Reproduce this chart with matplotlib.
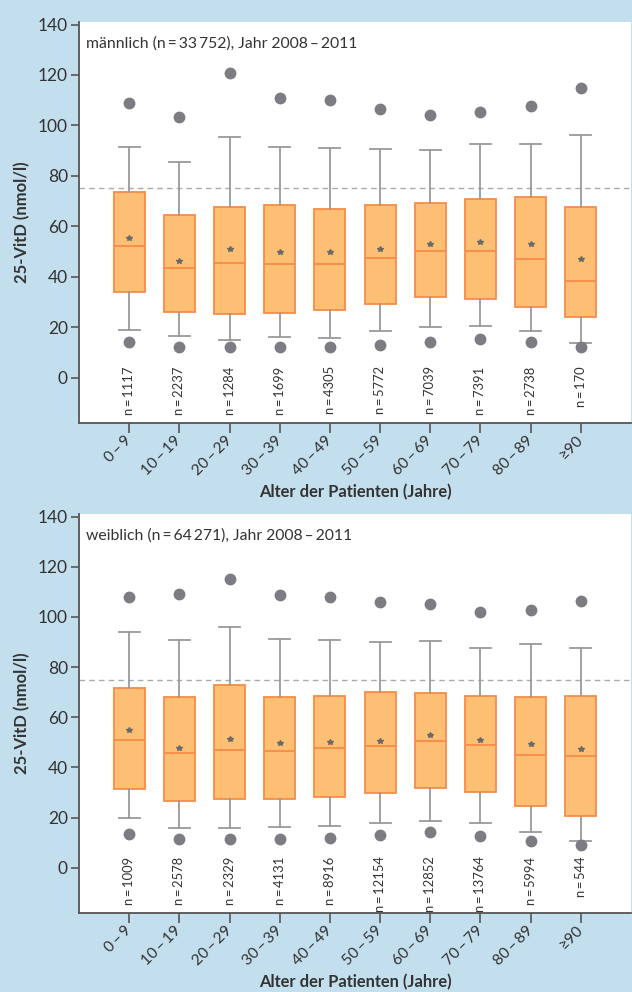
import matplotlib
matplotlib.use("Agg")
import matplotlib.pyplot as plt
from matplotlib.transforms import ScaledTranslation

plt.rcParams['font.family'] = ['Lato', 'DejaVu Sans']

# Age groups
age_groups = ["0\u2009–\u20099", "10\u2009–\u200919", "20\u2009–\u200929", "30\u2009–\u200939",
              "40\u2009–\u200949", "50\u2009–\u200959", "60\u2009–\u200969", "70\u2009–\u200979",
              "80\u2009–\u200989", "\u226590"]

# Men: 25-VitD (nmol/l) box statistics per age group
m_low_pt = [14.0, 12.3, 12.2, 12.3, 12.2, 13.1, 14.2, 15.4, 14.0, 12.2]
m_whislo = [18.9, 16.3, 14.8, 16.1, 15.9, 18.3, 20.1, 20.3, 18.3, 13.9]
m_q1     = [34.0, 26.1, 25.2, 25.8, 26.9, 29.0, 32.0, 31.0, 28.1, 23.9]
m_median = [52.2, 43.3, 45.3, 45.0, 44.9, 47.3, 50.1, 50.1, 46.9, 38.2]
m_mean   = [55.4, 46.4, 51.0, 49.8, 49.9, 51.1, 53.1, 53.8, 53.1, 47.0]
m_q3     = [73.4, 64.4, 67.6, 68.5, 67.0, 68.4, 69.2, 71.0, 71.6, 67.8]
m_whishi = [91.4, 85.3, 95.4, 91.4, 90.9, 90.5, 90.4, 92.5, 92.5, 96.1]
m_high_pt = [108.7, 103.4, 120.6, 110.8, 109.9, 106.4, 104.3, 105.5, 107.5, 115.0]
m_counts = ["1117", "2237", "1284", "1699", "4305", "5772", "7039", "7391", "2738", "170"]

# Women: 25-VitD (nmol/l) box statistics per age group
w_low_pt = [13.6, 11.5, 11.6, 11.6, 11.9, 13.1, 14.3, 12.7, 10.8, 9.0]
w_whislo = [19.7, 15.7, 15.7, 16.1, 16.8, 17.7, 18.5, 17.8, 14.3, 10.8]
w_q1     = [31.6, 26.8, 27.3, 27.6, 28.4, 29.8, 32.0, 30.1, 24.8, 20.7]
w_median = [51.1, 45.7, 47.0, 46.7, 47.7, 48.6, 50.6, 49.0, 45.0, 44.6]
w_mean   = [55.0, 47.9, 51.2, 49.9, 50.3, 50.7, 52.8, 50.8, 49.2, 47.5]
w_q3     = [71.8, 68.0, 72.7, 68.0, 68.6, 70.0, 69.8, 68.6, 68.0, 68.6]
w_whishi = [94.1, 90.8, 96.0, 91.2, 90.7, 90.0, 90.2, 87.8, 89.0, 87.5]
w_high_pt = [108.0, 109.2, 115.1, 108.6, 108.1, 106.1, 105.1, 101.9, 102.8, 106.5]
w_counts = ["1009", "2578", "2329", "4131", "8916", "12154", "12852", "13764", "5994", "544"]

target_level = 75
titles = ["männlich (n\u2009=\u200933\u2009752), Jahr 2008\u2009–\u20092011",
          "weiblich (n\u2009=\u200964\u2009271), Jahr 2008\u2009–\u20092011"]

BG = "#c3dfee"
BOX_FILL = "#fdbf73"
BOX_EDGE = "#f68c48"
WHISK = "#9a9a9a"
DOT = "#7c7c82"
TXT = "#333333"
SPINE = "#555555"


def make_stats(lo_pt, wlo, q1, med, mean, q3, whi, hi_pt):
    stats = []
    for i in range(len(med)):
        stats.append(dict(whislo=wlo[i], q1=q1[i], med=med[i], mean=mean[i],
                          q3=q3[i], whishi=whi[i], fliers=[lo_pt[i], hi_pt[i]]))
    return stats


def draw_panel(fig, ax, stats, counts, title):
    ax.set_facecolor("white")
    ax.axhline(target_level, color="#aaaaaa", lw=1.0, ls=(0, (4, 3)), zorder=1)
    positions = list(range(len(stats)))
    ax.bxp(stats, positions=positions, widths=0.62, capwidths=0.42,
           patch_artist=True, showmeans=True, showfliers=True,
           boxprops=dict(facecolor=BOX_FILL, edgecolor=BOX_EDGE, linewidth=1.3),
           medianprops=dict(color=BOX_EDGE, linewidth=1.3),
           whiskerprops=dict(color=WHISK, linewidth=1.3),
           capprops=dict(color=WHISK, linewidth=1.3),
           flierprops=dict(marker="o", markerfacecolor=DOT, markeredgecolor=DOT,
                           markersize=7.5, linestyle="none"),
           meanprops=dict(marker="*", markerfacecolor="#6a6a6a",
                          markeredgecolor="#6a6a6a", markersize=4),
           zorder=2)
    for x, n in zip(positions, counts):
        ax.text(x, 4.5, f"n\u2009=\u2009{n}", rotation=90, ha="center", va="top",
                fontsize=9.4, color=TXT)
    ax.text(-0.87, 132.5, title, ha="left", va="center", fontsize=11.3, color=TXT)

    ax.set_xlim(-1, 10)
    ax.set_ylim(-18, 141)
    ax.set_yticks([0, 20, 40, 60, 80, 100, 120, 140])
    ax.set_xticks(positions)
    ax.set_xticklabels(age_groups, rotation=45, ha="right", va="center",
                       rotation_mode="anchor", fontsize=11.2, color=TXT)
    # nudge the slanted labels so they sit just right of and below each tick
    shift = ScaledTranslation(6 / 100, 3 / 100, fig.dpi_scale_trans)
    for lbl in ax.get_xticklabels():
        lbl.set_transform(lbl.get_transform() + shift)
    ax.tick_params(axis="y", labelsize=12.5, labelcolor=TXT, length=6,
                   width=1.2, color=SPINE, pad=2)
    ax.tick_params(axis="x", length=7, width=1.2, color=SPINE, pad=4)
    for s in ("top", "right"):
        ax.spines[s].set_visible(False)
    for s in ("left", "bottom"):
        ax.spines[s].set_color(SPINE)
        ax.spines[s].set_linewidth(1.3)
    ax.set_ylabel("25-VitD (nmol/l)", fontsize=12, fontweight="bold", color=TXT,
                  va="center")
    ax.yaxis.set_label_coords(-0.103, 0.5)
    ax.set_xlabel("Alter der Patienten (Jahre)", fontsize=11.9, fontweight="bold",
                  color=TXT, va="center")


fig = plt.figure(figsize=(6.32, 9.92), dpi=100, facecolor=BG)
ax_m = fig.add_axes([79 / 632, 1 - 423 / 992, 552 / 632, 401 / 992])
ax_w = fig.add_axes([79 / 632, 1 - 913 / 992, 552 / 632, 399 / 992])

draw_panel(fig, ax_m, make_stats(m_low_pt, m_whislo, m_q1, m_median, m_mean, m_q3,
                                 m_whishi, m_high_pt), m_counts, titles[0])
draw_panel(fig, ax_w, make_stats(w_low_pt, w_whislo, w_q1, w_median, w_mean, w_q3,
                                 w_whishi, w_high_pt), w_counts, titles[1])
# x-axis titles centred about 70 px below each panel
ax_m.xaxis.set_label_coords(0.5, -(492 - 423) / 401)
ax_w.xaxis.set_label_coords(0.5, -(982 - 913) / 399)

fig.savefig("out.png", dpi=100, facecolor=BG)
